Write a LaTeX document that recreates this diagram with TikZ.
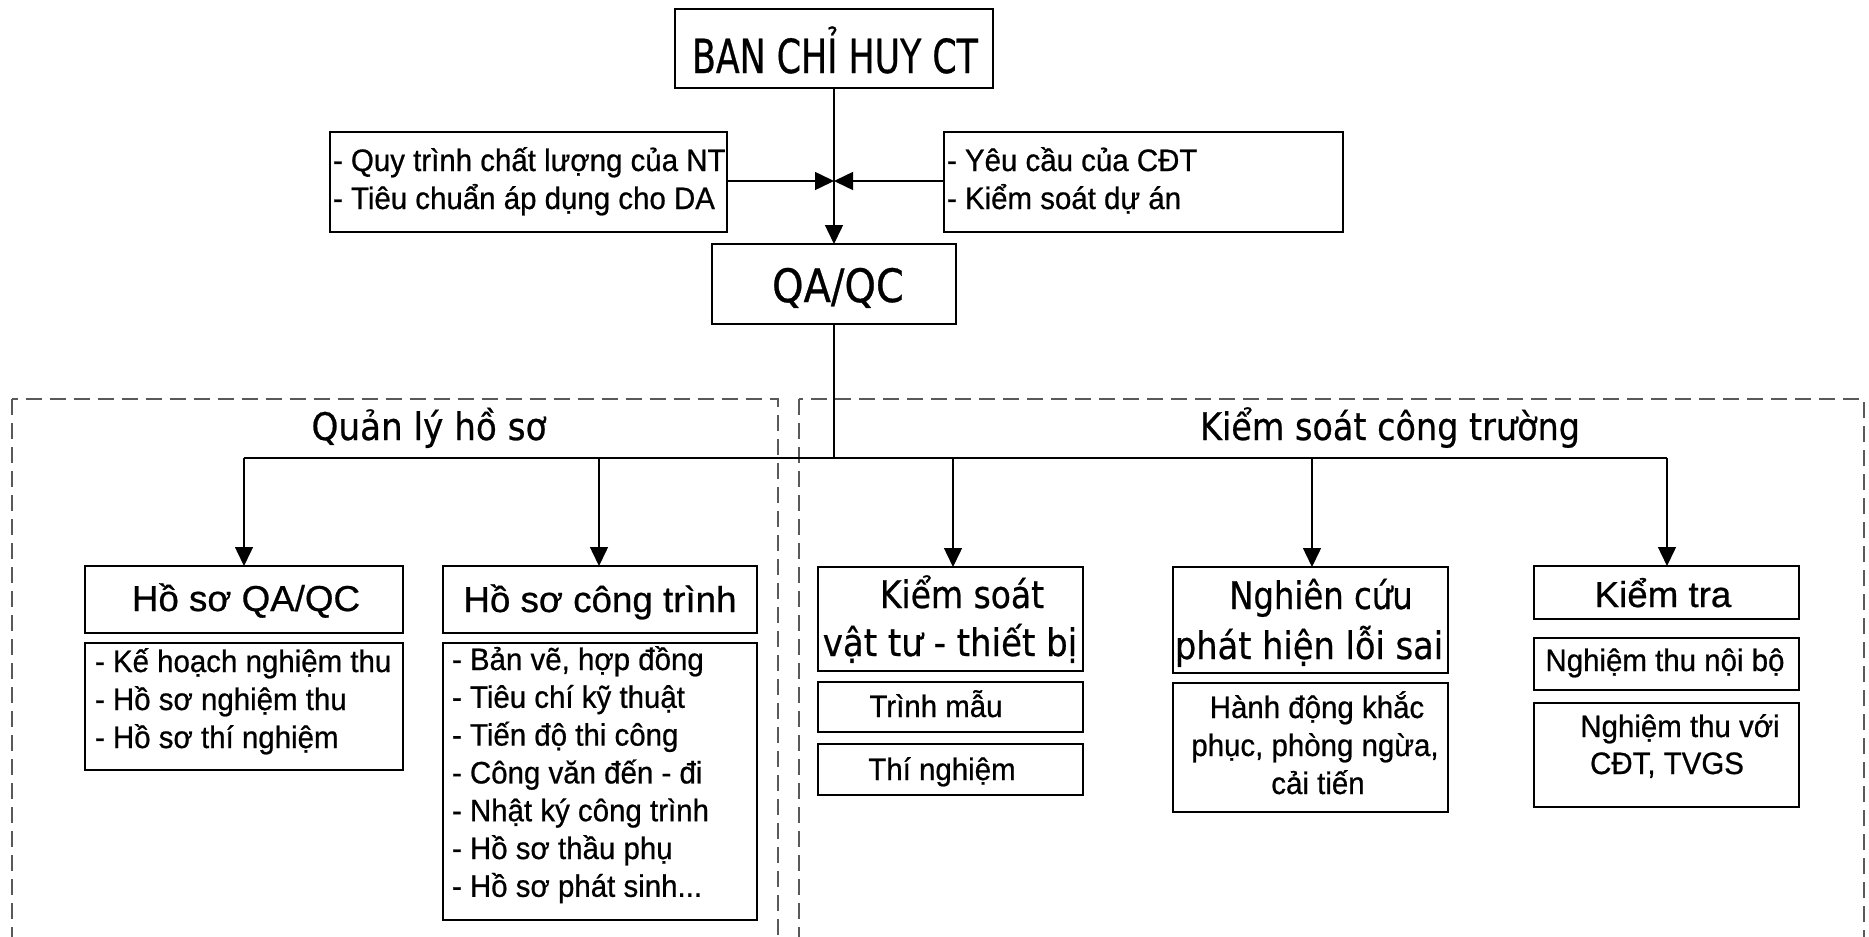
\documentclass[tikz,border=0pt]{standalone}
\usepackage{fontspec}
\setmainfont{Liberation Sans}
\newfontfamily\tah{DejaVu Sans}
\usetikzlibrary{arrows.meta}

% font helpers (1pt = 1 unit of the drawing)
\newcommand\lst{\fontsize{31}{36}\selectfont\addfontfeatures{FakeStretch=0.95,FakeBold=0.7}}
\newcommand\hdr{\fontsize{36}{40}\selectfont\addfontfeatures{FakeStretch=1.02,FakeBold=0.7}}
\newcommand\tahsz[2]{\tah\fontsize{#1}{#1}\selectfont\addfontfeatures{FakeStretch=#2,FakeBold=0.6}}

\begin{document}
\begin{tikzpicture}[x=1pt,y=-1pt,
  box/.style={draw, line width=1.8pt, inner sep=0pt, outer sep=0pt},
  txt/.style={inner sep=0pt, outer sep=0pt, anchor=base},
  txl/.style={inner sep=0pt, outer sep=0pt, anchor=base west},
  conn/.style={line width=1.5pt},
  arr/.style={conn, -{Triangle[length=19pt,width=18pt]}},
  zone/.style={draw=black!65, line width=1.3pt, dash pattern=on 16pt off 8pt}]

\fill[white] (0,0) rectangle (1869,937);
\clip (0,0) rectangle (1869,937);

% dashed zones
\draw[zone] (12,399) rectangle (778,980);
\draw[zone] (799,399) rectangle (1864,980);

% top boxes
\node[box, minimum width=318pt, minimum height=79pt] (ban) at (834,48.5) {};
\node[txt] (banT) at (835,73) {\tahsz{47}{0.74}BAN CHỈ HUY CT};

\node[box, minimum width=397pt, minimum height=100pt] (lbox) at (528.5,182) {};
\node[txl] (lb1) at (333,171) {\lst - Quy trình chất lượng của NT};
\node[txl] (lb2) at (333,209) {\lst - Tiêu chuẩn áp dụng cho DA};

\node[box, minimum width=399pt, minimum height=100pt] (rbox) at (1143.5,182) {};
\node[txl] (rb1) at (947,171) {\lst - Yêu cầu của CĐT};
\node[txl] (rb2) at (947,209) {\lst - Kiểm soát dự án};

\node[box, minimum width=244pt, minimum height=80pt] (qa) at (834,284) {};
\node[txt] (qaT) at (838,302) {\tahsz{46}{0.87}QA/QC};

% zone titles
\node[txt] (zl) at (429,440) {\tahsz{38}{0.9}Quản lý hồ sơ};
\node[txt] (zr) at (1390,440) {\tahsz{38}{0.88}Kiểm soát công trường};

% records branch
\node[box, minimum width=318pt, minimum height=67pt] (h1) at (244,599.5) {};
\node[txt] (h1T) at (246,611) {\hdr Hồ sơ QA/QC};
\node[box, minimum width=318pt, minimum height=127pt] (l1) at (244,706.5) {};
\node[txl] at (95,672) {\lst - Kế hoạch nghiệm thu};
\node[txl] at (95,710) {\lst - Hồ sơ nghiệm thu};
\node[txl] at (95,748) {\lst - Hồ sơ thí nghiệm};

\node[box, minimum width=314pt, minimum height=67pt] (h2) at (600,599.5) {};
\node[txt] (h2T) at (600,612) {\hdr Hồ sơ công trình};
\node[box, minimum width=314pt, minimum height=277pt] (l2) at (600,781.5) {};
\node[txl] at (452,670) {\lst - Bản vẽ, hợp đồng};
\node[txl] at (452,707.8) {\lst - Tiêu chí kỹ thuật};
\node[txl] at (452,745.6) {\lst - Tiến độ thi công};
\node[txl] at (452,783.4) {\lst - Công văn đến - đi};
\node[txl] at (452,821.2) {\lst - Nhật ký công trình};
\node[txl] at (452,859) {\lst - Hồ sơ thầu phụ};
\node[txl] at (452,896.8) {\lst - Hồ sơ phát sinh...};

% site control branch
\node[box, minimum width=265pt, minimum height=104pt] (k1) at (950.5,619) {};
\node[txt] at (962,608) {\tahsz{38}{0.868}Kiểm soát};
\node[txt] at (950,656) {\tahsz{38}{0.895}vật tư - thiết bị};
\node[box, minimum width=265pt, minimum height=50pt] (k1a) at (950.5,707) {};
\node[txt] at (936,717) {\lst Trình mẫu};
\node[box, minimum width=265pt, minimum height=51pt] (k1b) at (950.5,769.5) {};
\node[txt] at (942,780) {\lst Thí nghiệm};

\node[box, minimum width=275pt, minimum height=106pt] (n1) at (1310.5,620) {};
\node[txt] at (1321,609) {\tahsz{38}{0.85}Nghiên cứu};
\node[txt] at (1309,659) {\tahsz{38}{0.886}phát hiện lỗi sai};
\node[box, minimum width=275pt, minimum height=129pt] (n1a) at (1310.5,747.5) {};
\node[txt] at (1317,718) {\lst Hành động khắc};
\node[txt] at (1315,756) {\lst phục, phòng ngừa,};
\node[txt] at (1318,794) {\lst cải tiến};

\node[box, minimum width=265pt, minimum height=53pt] (t1) at (1666.5,592.5) {};
\node[txt] at (1663,607) {\hdr Kiểm tra};
\node[box, minimum width=265pt, minimum height=52pt] (t1a) at (1666.5,664) {};
\node[txt] at (1665,671) {\lst Nghiệm thu nội bộ};
\node[box, minimum width=265pt, minimum height=104pt] (t1b) at (1666.5,755) {};
\node[txt] at (1680,737) {\lst Nghiệm thu với};
\node[txt] at (1667,774) {\lst CĐT, TVGS};

% connectors
\coordinate (jn) at (834,181);
\draw[arr] (ban.south) -- (qa.north);
\draw[arr] (lbox.east |- jn) -- (jn);
\draw[arr] (rbox.west |- jn) -- (jn);

\coordinate (b1) at (244,458);
\coordinate (b2) at (599,458);
\coordinate (b3) at (953,458);
\coordinate (b4) at (1312,458);
\coordinate (b5) at (1667,458);
\draw[conn] (qa.south) -- (qa.south |- b1);
\draw[conn] (b1) -- (b5);
\draw[arr] (b1) -- (b1 |- h1.north);
\draw[arr] (b2) -- (b2 |- h2.north);
\draw[arr] (b3) -- (b3 |- k1.north);
\draw[arr] (b4) -- (b4 |- n1.north);
\draw[arr] (b5) -- (b5 |- t1.north);
\end{tikzpicture}
\end{document}
